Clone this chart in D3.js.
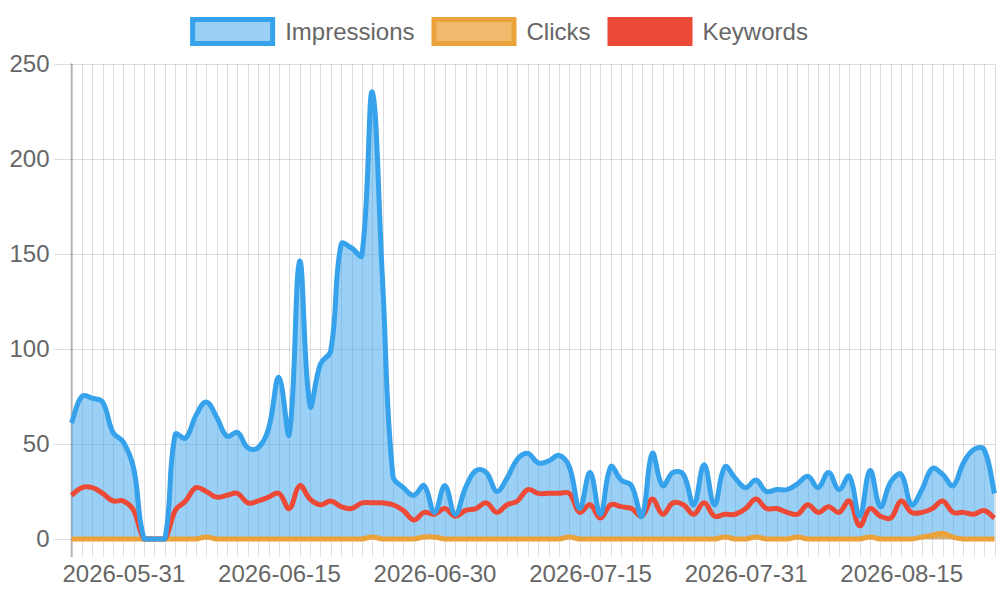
<!DOCTYPE html>
<html>
<head>
<meta charset="utf-8">
<script src="https://cdnjs.cloudflare.com/ajax/libs/d3/7.8.5/d3.min.js"></script>
<style>
    body { margin: 0; background: #fff; }
    svg text { font-family: "Liberation Sans", Arial, sans-serif; fill: #666; }
</style>
</head>
<body>
<script>
var dates = [
    "2026-05-26", "2026-05-27", "2026-05-28", "2026-05-29", "2026-05-30",
    "2026-05-31", "2026-06-01", "2026-06-02", "2026-06-03", "2026-06-04",
    "2026-06-05", "2026-06-06", "2026-06-07", "2026-06-08", "2026-06-09",
    "2026-06-10", "2026-06-11", "2026-06-12", "2026-06-13", "2026-06-14",
    "2026-06-15", "2026-06-16", "2026-06-17", "2026-06-18", "2026-06-19",
    "2026-06-20", "2026-06-21", "2026-06-22", "2026-06-23", "2026-06-24",
    "2026-06-25", "2026-06-26", "2026-06-27", "2026-06-28", "2026-06-29",
    "2026-06-30", "2026-07-01", "2026-07-02", "2026-07-03", "2026-07-04",
    "2026-07-05", "2026-07-06", "2026-07-07", "2026-07-08", "2026-07-09",
    "2026-07-10", "2026-07-11", "2026-07-12", "2026-07-13", "2026-07-14",
    "2026-07-15", "2026-07-16", "2026-07-17", "2026-07-18", "2026-07-19",
    "2026-07-20", "2026-07-21", "2026-07-22", "2026-07-24", "2026-07-25",
    "2026-07-26", "2026-07-27", "2026-07-28", "2026-07-29", "2026-07-30",
    "2026-07-31", "2026-08-01", "2026-08-02", "2026-08-03", "2026-08-04",
    "2026-08-05", "2026-08-06", "2026-08-07", "2026-08-08", "2026-08-09",
    "2026-08-10", "2026-08-11", "2026-08-12", "2026-08-13", "2026-08-14",
    "2026-08-15", "2026-08-16", "2026-08-17", "2026-08-18", "2026-08-19",
    "2026-08-20", "2026-08-21", "2026-08-22", "2026-08-23", "2026-08-24"
];

var impressions = [
    61, 75, 74, 72, 56, 51, 37, 0, 0, 0,
    55, 53, 65, 72, 64, 54, 56, 48, 48, 58,
    85, 55, 146, 70, 92, 99, 155, 153, 149, 235,
    135, 33, 27, 23, 28, 14, 28, 13, 27, 36,
    35, 25, 32, 42, 45, 40, 41, 44, 38, 16,
    35, 13, 38, 31, 28, 12, 45, 28, 35, 34,
    18, 39, 18, 38, 32, 27, 31, 25, 26, 26,
    29, 33, 27, 35, 26, 33, 12, 36, 17, 30,
    34, 18, 26, 37, 34, 28, 40, 47, 47, 24
];

var clicks = [
    0, 0, 0, 0, 0, 0, 0, 0, 0, 0,
    0, 0, 0, 1, 0, 0, 0, 0, 0, 0,
    0, 0, 0, 0, 0, 0, 0, 0, 0, 1,
    0, 0, 0, 0, 1, 1, 0, 0, 0, 0,
    0, 0, 0, 0, 0, 0, 0, 0, 1, 0,
    0, 0, 0, 0, 0, 0, 0, 0, 0, 0,
    0, 0, 0, 1, 0, 0, 1, 0, 0, 0,
    1, 0, 0, 0, 0, 0, 0, 1, 0, 0,
    0, 0, 1, 2, 3, 1, 0, 0, 0, 0
];

var keywords = [
    23, 27, 27, 24, 20, 20, 15, 0, 0, 0,
    15, 20, 27, 25, 22, 23, 24, 19, 20, 22,
    24, 16, 28, 21, 18, 20, 17, 16, 19, 19,
    19, 18, 15, 10, 14, 13, 16, 12, 15, 16,
    19, 14, 18, 20, 26, 24, 24, 24, 24, 14,
    18, 11, 18, 17, 16, 12, 21, 13, 19, 18,
    13, 19, 12, 13, 13, 16, 21, 16, 16, 14,
    13, 18, 14, 17, 14, 20, 7, 16, 12, 11,
    20, 14, 14, 16, 20, 14, 14, 13, 15, 11
];

var xTickLabels = ["2026-05-31", "2026-06-15", "2026-06-30", "2026-07-15", "2026-07-31", "2026-08-15"];
var yTicks = [0, 50, 100, 150, 200, 250];

// spline with tension, control points kept inside the plot (like chart.js does)
function splinePath(pts, tension, yMin, yMax, closeY) {
    var n = pts.length;
    var cps = pts.map(function(p, i) {
        var prev = i > 0 ? pts[i - 1] : p;
        var next = i < n - 1 ? pts[i + 1] : p;
        var d01 = Math.hypot(p[0] - prev[0], p[1] - prev[1]);
        var d12 = Math.hypot(next[0] - p[0], next[1] - p[1]);
        var s01 = d01 / (d01 + d12) || 0;
        var s12 = d12 / (d01 + d12) || 0;
        var fa = tension * s01;
        var fb = tension * s12;
        var clamp = function(v) { return Math.max(yMin, Math.min(yMax, v)); };
        return {
            before: [p[0] - fa * (next[0] - prev[0]), clamp(p[1] - fa * (next[1] - prev[1]))],
            after: [p[0] + fb * (next[0] - prev[0]), clamp(p[1] + fb * (next[1] - prev[1]))]
        };
    });

    var path = d3.path();
    path.moveTo(pts[0][0], pts[0][1]);
    for (var i = 1; i < n; i++) {
        path.bezierCurveTo(cps[i - 1].after[0], cps[i - 1].after[1],
                           cps[i].before[0], cps[i].before[1],
                           pts[i][0], pts[i][1]);
    }
    if (closeY !== undefined) {
        path.lineTo(pts[n - 1][0], closeY);
        path.lineTo(pts[0][0], closeY);
        path.closePath();
    }
    return path.toString();
}

function init(){
    var w = 1000;
    var h = 600;
    var left = 71.5;
    var right = 994.5;
    var top = 63.5;
    var bottom = 539;
    var tickLen = 18;
    var tension = 0.4;
    var gridColor = "rgba(0,0,0,0.13)";

    var series = [
        { name: "Impressions", values: impressions, color: "#36A2EB", fill: "rgba(54,162,235,0.5)" },
        { name: "Clicks", values: clicks, color: "#EBA23A", fill: "rgba(235,162,58,0.75)" },
        { name: "Keywords", values: keywords, color: "#EC4A36", fill: null }
    ];

    var xScale = d3.scalePoint()
                    .domain(dates)
                    .range([left, right]);

    var yScale = d3.scaleLinear()
                    .domain([0, 250])
                    .range([bottom, top]);

    var svg = d3.select("body")
                .append("svg")
                .attr("width", w)
                .attr("height", h);

    // vertical grid, one line per day
    svg.append("g")
        .attr("transform", "translate(0," + (bottom + tickLen) + ")")
        .call(d3.axisBottom(xScale).tickSize(-(bottom + tickLen - top)).tickFormat(""))
        .call(function(g) {
            g.select(".domain").remove();
            g.selectAll("line")
                .attr("stroke", gridColor)
                .attr("shape-rendering", "crispEdges");
        });

    // horizontal grid + y labels
    svg.append("g")
        .attr("transform", "translate(" + (left - tickLen) + ",0)")
        .call(d3.axisLeft(yScale).tickValues(yTicks).tickSize(-(right - left + tickLen)).tickPadding(4))
        .call(function(g) {
            g.select(".domain").remove();
            g.selectAll("line")
                .attr("stroke", gridColor)
                .attr("shape-rendering", "crispEdges");
            g.selectAll("text")
                .attr("font-size", 24)
                .style("font-family", "'Liberation Sans', Arial, sans-serif")
                .attr("fill", "#666");
        });

    // y axis border
    svg.append("line")
        .attr("x1", left)
        .attr("x2", left)
        .attr("y1", top)
        .attr("y2", bottom + tickLen)
        .attr("stroke", "rgba(0,0,0,0.3)")
        .attr("stroke-width", 1.5);

    // x labels
    svg.append("g")
        .attr("transform", "translate(0," + bottom + ")")
        .call(d3.axisBottom(xScale).tickValues(xTickLabels).tickSize(0).tickPadding(26))
        .call(function(g) {
            g.select(".domain").remove();
            g.selectAll("text")
                .attr("font-size", 24)
                .style("font-family", "'Liberation Sans', Arial, sans-serif")
                .attr("fill", "#666");
        });

    function points(values) {
        return values.map(function(d, i) {
            return [xScale(dates[i]), yScale(d)];
        });
    }

    // fills under the lines
    svg.selectAll("path.fill")
        .data(series.filter(function(s) { return s.fill; }))
        .enter()
        .append("path")
        .attr("class", "fill")
        .attr("d", function(s) { return splinePath(points(s.values), tension, top, bottom, yScale(0)); })
        .attr("fill", function(s) { return s.fill; });

    // lines, Impressions drawn last so it sits on top
    svg.selectAll("path.line")
        .data([series[1], series[2], series[0]])
        .enter()
        .append("path")
        .attr("class", "line")
        .attr("d", function(s) { return splinePath(points(s.values), tension, top, bottom); })
        .attr("fill", "none")
        .attr("stroke", function(s) { return s.color; })
        .attr("stroke-width", 5)
        .attr("stroke-linejoin", "round");

    // legend
    var boxW = 85;
    var boxH = 29;
    var legend = svg.append("g");

    var items = legend.selectAll("g")
        .data(series)
        .enter()
        .append("g");

    items.append("rect")
        .attr("x", 2.5)
        .attr("y", 2.5)
        .attr("width", boxW - 5)
        .attr("height", boxH - 5)
        .attr("fill", function(s) { return s.fill ? s.fill : s.color; })
        .attr("stroke", function(s) { return s.color; })
        .attr("stroke-width", 5);

    items.append("text")
        .attr("x", boxW + 10)
        .attr("y", boxH / 2)
        .attr("dy", "0.35em")
        .attr("font-size", 24)
        .text(function(s) { return s.name; });

    var offsets = [];
    var total = 0;
    items.each(function(s, i) {
        var tw = d3.select(this).select("text").node().getComputedTextLength();
        offsets.push(total);
        total += boxW + 10 + tw + (i < series.length - 1 ? 17 : 0);
    });

    var startX = 499 - total / 2;
    items.attr("transform", function(s, i) {
        return "translate(" + (startX + offsets[i]) + ",17)";
    });
}

window.onload = init;
</script>
</body>
</html>
